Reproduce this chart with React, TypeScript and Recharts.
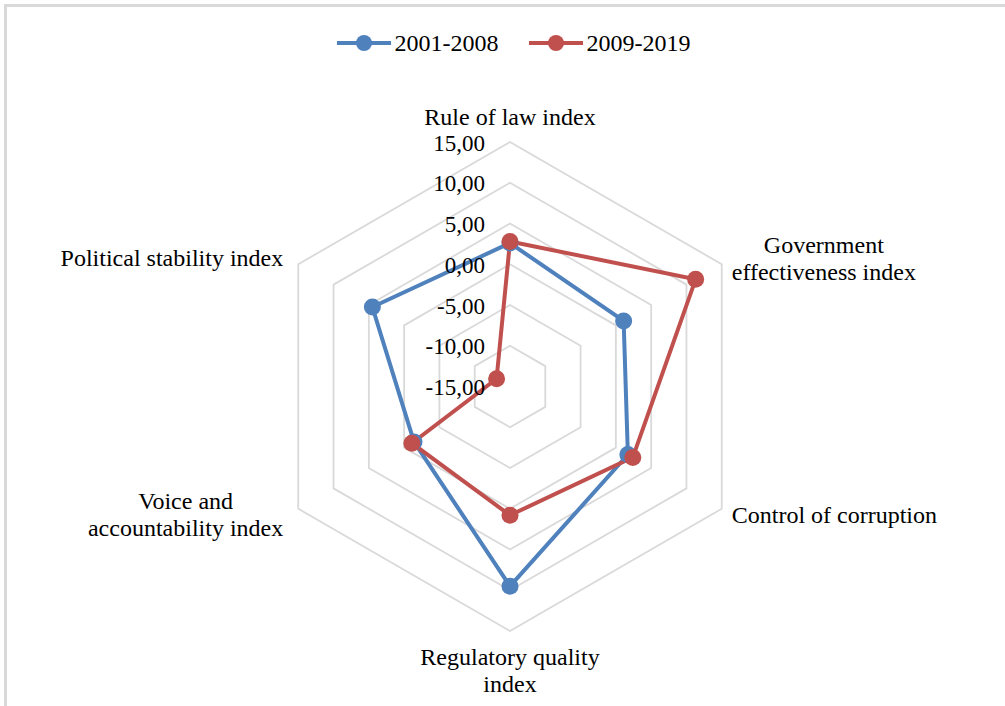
import { Legend, PolarAngleAxis, PolarGrid, PolarRadiusAxis, Radar, RadarChart } from "recharts";

const categories = [
  "Rule of law index",
  "Government effectiveness index",
  "Control of corruption",
  "Regulatory quality index",
  "Voice and accountability index",
  "Political stability index",
];
// how the category names wrap on the chart
const categoryLines = [
  ["Rule of law index"],
  ["Government", "effectiveness index"],
  ["Control of corruption"],
  ["Regulatory quality", "index"],
  ["Voice and", "accountability index"],
  ["Political stability index"],
];
const series2001 = [2.6, 1.1, 1.7, 9.5, -1.4, 4.5];
const series2009 = [2.8, 11.3, 2.4, 0.8, -1.1, -13.1];
const radiusTicks = [-15, -10, -5, 0, 5, 10, 15];

const data = categories.map((name, i) => ({
  name,
  p2001: series2001[i],
  p2009: series2009[i],
}));

const FONT = "Liberation Serif";
const BLUE = "#4f81bd";
const RED = "#c0504d";
const CX = 510;
const CY = 386.5;
const R = 244.5;
const LH = 27;

let ctx: CanvasRenderingContext2D | null = null;
function textWidth(s: string, size: number) {
  if (!ctx) ctx = document.createElement("canvas").getContext("2d");
  if (!ctx) return s.length * size * 0.45;
  ctx.font = `${size}px "Liberation Serif"`;
  return ctx.measureText(s).width;
}

const fmt = (v: number) => v.toFixed(2).replace(".", ",");

function RadiusTick(props: any) {
  const { x, y, payload } = props;
  return (
    <text x={x - 25} y={y + 1} textAnchor="end" dominantBaseline="central" style={{ fontFamily: FONT }} fontSize={23} fill="#000">
      {fmt(payload.value)}
    </text>
  );
}

function AngleTick(props: any) {
  const { payload } = props;
  const idx = categories.indexOf(payload.value);
  const lines = categoryLines[idx] || [payload.value];
  const rad = (payload.coordinate * Math.PI) / 180;
  const cos = Math.cos(rad);
  const sin = Math.sin(rad);
  const vx = CX + R * cos;
  const vy = CY - R * sin;
  const blockH = lines.length * LH;
  const w = Math.max(...lines.map((l) => textWidth(l, 24)));
  let mx: number;
  let my: number;
  if (Math.abs(cos) < 0.1) {
    mx = vx;
    my = sin > 0 ? vy - 12 - blockH / 2 : vy + 12 + blockH / 2;
  } else {
    mx = cos > 0 ? vx + 10 + w / 2 : vx - 15 - w / 2;
    my = vy - 6 * Math.sign(sin);
  }
  return (
    <g>
      {lines.map((l, i) => (
        <text
          key={i}
          x={mx}
          y={my - blockH / 2 + LH * (i + 0.5)}
          textAnchor="middle"
          dominantBaseline="central"
          style={{ fontFamily: FONT }}
          fontSize={24}
          fill="#000"
        >
          {l}
        </text>
      ))}
    </g>
  );
}

function LegendContent() {
  const items = [
    { label: "2001-2008", color: BLUE },
    { label: "2009-2019", color: RED },
  ];
  return (
    <div style={{ display: "flex", justifyContent: "center", gap: 30, fontFamily: FONT, fontSize: 24, paddingLeft: 22 }}>
      {items.map((it) => (
        <div key={it.label} style={{ display: "flex", alignItems: "center" }}>
          <svg width={54} height={20} style={{ marginRight: 4 }}>
            <line x1={0} y1={10} x2={54} y2={10} stroke={it.color} strokeWidth={4} />
            <circle cx={27} cy={10} r={8} fill={it.color} />
          </svg>
          <span style={{ lineHeight: "28px" }}>{it.label}</span>
        </div>
      ))}
    </div>
  );
}

const dotFor = (color: string) => (p: any) => <circle key={p.index} cx={p.cx} cy={p.cy} r={8.5} fill={color} />;

export default function App() {
  return (
    <div style={{ position: "absolute", left: 0, top: 0, width: 1005, height: 706, background: "#fff", overflow: "hidden" }}>
      <div
        style={{
          position: "absolute",
          left: 4,
          top: 4,
          width: 1020,
          height: 720,
          border: "3px solid #d9d9d9",
        }}
      />
      <div style={{ position: "absolute", left: 0, top: 0 }}>
        <RadarChart
          width={1005}
          height={706}
          data={data}
          cx={CX}
          cy={CY}
          outerRadius={R}
          startAngle={90}
          endAngle={-270}
          margin={{ top: 0, right: 0, bottom: 0, left: 0 }}
        >
          <PolarGrid gridType="polygon" radialLines={false} stroke="#d9d9d9" strokeWidth={1.8} />
          <PolarAngleAxis dataKey="name" tick={<AngleTick />} tickLine={false} axisLine={false} />
          <PolarRadiusAxis
            angle={90}
            type="number"
            domain={[-15, 15]}
            ticks={radiusTicks as any}
            tickCount={7}
            tick={<RadiusTick />}
            tickLine={false}
            axisLine={false}
          />
          <Radar
            name="2001-2008"
            dataKey="p2001"
            stroke={BLUE}
            strokeWidth={4}
            fill="none"
            fillOpacity={0}
            dot={dotFor(BLUE)}
            isAnimationActive={false}
          />
          <Radar
            name="2009-2019"
            dataKey="p2009"
            stroke={RED}
            strokeWidth={4}
            fill="none"
            fillOpacity={0}
            dot={dotFor(RED)}
            isAnimationActive={false}
          />
          <Legend
            verticalAlign="top"
            content={<LegendContent />}
            wrapperStyle={{ position: "absolute", top: 29, left: 0, width: 1005 }}
          />
        </RadarChart>
      </div>
    </div>
  );
}
